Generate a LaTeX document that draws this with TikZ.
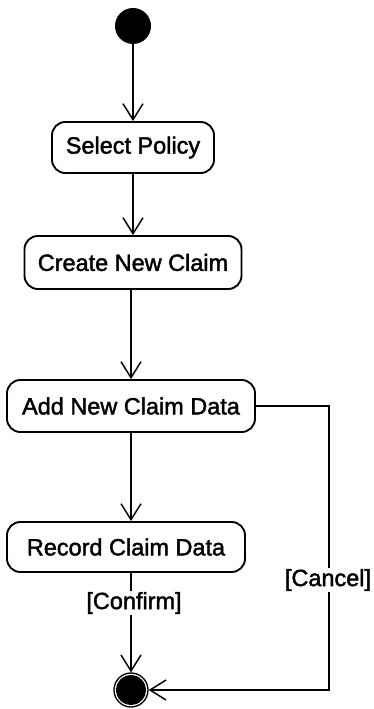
\documentclass[tikz,border=0pt]{standalone}
\usepackage{fontspec}
\setmainfont{Liberation Sans}
% slightly heavier regular face for the labels
\font\labelface="Liberation Sans:embolden=1.8" at 17.6pt
\usetikzlibrary{arrows.meta}
\begin{document}
\begin{tikzpicture}[x=0.75pt,y=-0.75pt,
  labelfont/.style={font=\labelface},
  action/.style={draw, line width=1.4pt, rounded corners=10pt, inner sep=0pt, labelfont},
  flow/.style={line width=1.1pt, -{Straight Barb[length=12pt,width=15pt,line width=1.1pt]}},
  guard/.style={fill=white, inner sep=1pt, labelfont}]
\useasboundingbox (0,0) rectangle (374,709);

% initial and final states
\node[circle, fill=black, minimum size=27pt, inner sep=0pt] (start) at (133,26) {};
\node[circle, draw, line width=1pt, minimum size=25.5pt, inner sep=0pt,
      path picture={\fill (path picture bounding box.center) circle (11.2pt);}] (end) at (131,690) {};

% actions
\node[action, minimum width=121.5pt, minimum height=38.25pt] (select) at (133,147.5) {Select Policy};
\node[action, minimum width=162.75pt, minimum height=39.75pt] (create) at (133,262.5) {Create New Claim};
\node[action, minimum width=186pt, minimum height=39pt] (add) at (131,406) {Add New Claim Data};
\node[action, minimum width=178.5pt, minimum height=37.5pt] (record) at (126,547) {Record Claim Data};

% transitions
\draw[flow] (start) -- (select);
\draw[flow] (select) -- (create);
\draw[flow] (create.south -| add) -- (add.north);
\draw[flow] (add) -- (add |- record.north);
\draw[flow] (end |- record.south) -- (end.north);
\coordinate (turn) at (329,406);
\draw[flow] (add.east) -- (turn) |- (end.east);

% guards
\node[guard] (confirm) at (134,603) {[Confirm]};
\node[guard] (cancel) at (328,580) {[Cancel]};
\end{tikzpicture}
\end{document}
